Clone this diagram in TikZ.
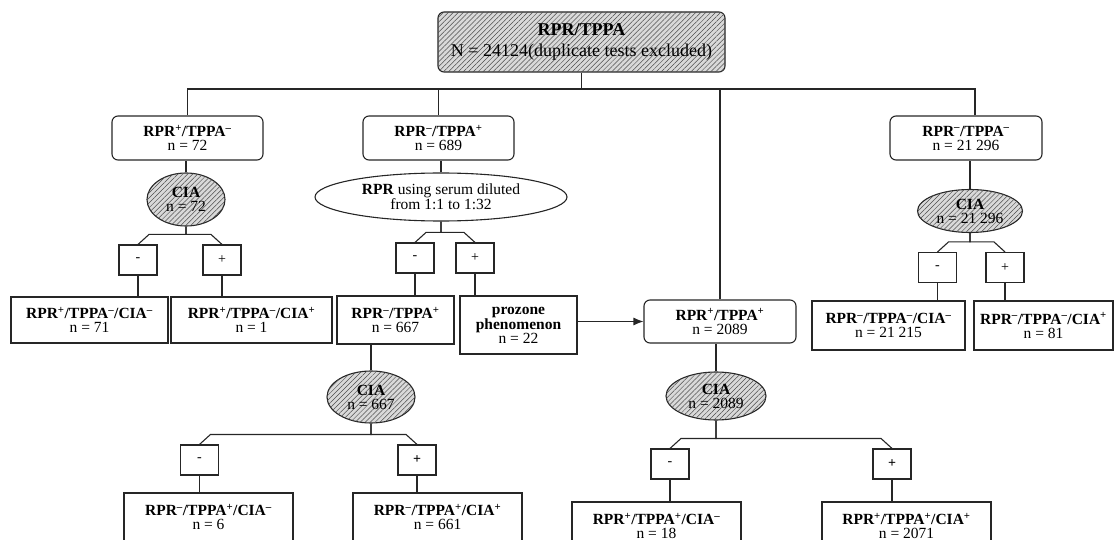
\documentclass[tikz,border=0pt]{standalone}
\usepackage{fontspec}
\setmainfont{Liberation Serif}
\usetikzlibrary{arrows.meta,shapes.geometric,patterns.meta}
\newcommand{\plussup}{\textsuperscript{+}}
\newcommand{\minussup}{\textsuperscript{--}}

\begin{document}
\begin{tikzpicture}[x=1pt, y=-1pt, line width=1.1pt, draw=black!85, >={Latex[length=10pt,width=8pt]},
	every node/.style={font=\fontsize{15.5}{14}\selectfont, align=center, inner sep=0pt},
	hatch/.style={fill=gray!30, postaction={pattern={Lines[angle=45,distance=3.5pt,line width=0.5pt]}, pattern color=gray!60!black}},
	grp/.style={draw, rounded corners=6pt, minimum width=151pt, minimum height=44pt},
	ell/.style={draw, ellipse},
	cia/.style={ell, hatch},
	sgn/.style={draw, minimum width=38pt, minimum height=30pt, font=\fontsize{14}{14}\selectfont},
	leaf/.style={draw, minimum height=46pt}]
	\useasboundingbox (0,0) rectangle (1114,540);
	\clip (0,0) rectangle (1114,540);
	% root and first split
	\node[grp, hatch, minimum width=287pt, minimum height=60pt, font=\fontsize{18}{21}\selectfont] (top) at (581.5,42) {\textbf{RPR/TPPA}\\N = 24124(duplicate tests excluded)};
	\node[grp] (g1) at (187.5,138) {\textbf{RPR\plussup/TPPA\minussup}\\n = 72};
	\node[grp] (g2) at (438.5,138) {\textbf{RPR\minussup/TPPA\plussup}\\n = 689};
	\node[grp, minimum width=152pt] (g3) at (966,138) {\textbf{RPR\minussup/TPPA\minussup}\\n = 21 296};
	\node[grp, minimum width=152pt, minimum height=43pt] (g4) at (720,321.5) {\textbf{RPR\plussup/TPPA\plussup}\\n = 2089};
	% tests
	\node[cia, minimum width=78pt, minimum height=53pt] (ciaA) at (186,199.5) {\textbf{CIA}\\n = 72};
	\node[ell, minimum width=252pt, minimum height=48pt] (rprE) at (441,197) {\textbf{RPR} using serum diluted\\from 1:1 to 1:32};
	\node[cia, minimum width=105pt, minimum height=43pt] (ciaC) at (970,211) {\textbf{CIA}\\n = 21 296};
	\node[cia, minimum width=88pt, minimum height=52pt] (ciaB) at (371,397) {\textbf{CIA}\\n = 667};
	\node[cia, minimum width=100pt, minimum height=48pt] (ciaD) at (716,396) {\textbf{CIA}\\n = 2089};
	\foreach \n/\x/\y/\t in {mA/138/260/-, pA/222/260/+, mB/415/258/-, pB/475/258/+, mC/937.5/267.5/-, pC/1005/267.5/+, mD/199.5/460/-, pD/417/460/\textbf{+}, mE/670/464/-, pE/892/464/\textbf{+}}
		\node[sgn] (\n) at (\x,\y) {\t};
	% results
	\node[leaf, minimum width=157pt] (lA1) at (89.5,320) {\textbf{RPR\plussup/TPPA\minussup/CIA\minussup}\\n = 71};
	\node[leaf, minimum width=161pt] (lA2) at (251.5,320) {\textbf{RPR\plussup/TPPA\minussup/CIA\plussup}\\n = 1};
	\node[leaf, minimum width=117pt, minimum height=48pt] (lB1) at (395.5,320) {\textbf{RPR\minussup/TPPA\plussup}\\n = 667};
	\node[leaf, minimum width=117pt, minimum height=58pt] (lB2) at (518.5,325) {\textbf{prozone}\\\textbf{phenomenon}\\n = 22};
	\node[leaf, minimum width=153pt, minimum height=49pt] (lC1) at (888.5,325.5) {\textbf{RPR\minussup/TPPA\minussup/CIA\minussup}\\n = 21 215};
	\node[leaf, minimum width=139pt, minimum height=49pt] (lC2) at (1043.5,325.5) {\textbf{RPR\minussup/TPPA\minussup/CIA\plussup}\\n = 81};
	\node[leaf, minimum width=169pt, minimum height=48pt] (lD1) at (208.5,517) {\textbf{RPR\minussup/TPPA\plussup/CIA\minussup}\\n = 6};
	\node[leaf, minimum width=169pt, minimum height=48pt] (lD2) at (437.5,517) {\textbf{RPR\minussup/TPPA\plussup/CIA\plussup}\\n = 661};
	\node[leaf, minimum width=169pt, minimum height=48pt] (lE1) at (656.5,526) {\textbf{RPR\plussup/TPPA\plussup/CIA\minussup}\\n = 18};
	\node[leaf, minimum width=169pt, minimum height=48pt] (lE2) at (906.5,526) {\textbf{RPR\plussup/TPPA\plussup/CIA\plussup}\\n = 2071};
	% connectors
	\coordinate (bus) at (581.5,89);
	\draw (top) -- (bus);
	\draw (g1.north) |- (bus);
	\draw ([xshift=9pt]g3.north) |- (bus);
	\draw (g2.north) -- (g2.north |- bus);
	\draw (g4.north) -- (g4.north |- bus);
	\foreach \a/\b in {g1/ciaA, g2/rprE, g3/ciaC, lB1/ciaB, g4/ciaD}
		\draw (\b.north) -- (\b.north |- \a.south);
	\foreach \p/\m/\q in {ciaA/mA/pA, rprE/mB/pB, ciaC/mC/pC, ciaB/mD/pD, ciaD/mE/pE} {
		\draw (\m.north) -- ++(11,-10) -| (\p.south);
		\draw (\q.north) -- ++(-11,-10) -| (\p.south);
	}
	\foreach \s/\l in {mA/lA1, pA/lA2, mB/lB1, pB/lB2, mC/lC1, pC/lC2, mD/lD1, pD/lD2, mE/lE1, pE/lE2}
		\draw (\s.south) -- (\s.south |- \l.north);
	\draw[->] (lB2.east |- g4.west) -- (g4.west);
\end{tikzpicture}
\end{document}
